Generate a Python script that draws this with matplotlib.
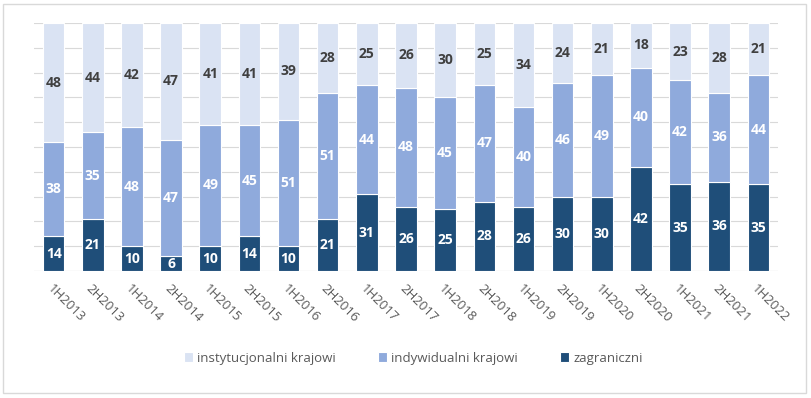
import numpy as np
import matplotlib.pyplot as plt
from matplotlib.patches import Rectangle

periods = ["1H2013", "2H2013", "1H2014", "2H2014", "1H2015", "2H2015", "1H2016",
           "2H2016", "1H2017", "2H2017", "1H2018", "2H2018", "1H2019", "2H2019",
           "1H2020", "2H2020", "1H2021", "2H2021", "1H2022"]
zagraniczni = [14, 21, 10, 6, 10, 14, 10, 21, 31, 26, 25, 28, 26, 30, 30, 42, 35, 36, 35]
indywidualni = [38, 35, 48, 47, 49, 45, 51, 51, 44, 48, 45, 47, 40, 46, 49, 40, 42, 36, 44]
instytucjonalni = [48, 44, 42, 47, 41, 41, 39, 28, 25, 26, 30, 25, 34, 24, 21, 18, 23, 28, 21]

c_zag = "#1f4e79"
c_ind = "#8faadc"
c_ins = "#dae3f3"

plt.rcParams['font.family'] = ['Open Sans', 'DejaVu Sans']

fig = plt.figure(figsize=(8.12, 3.98), dpi=100)
ax = fig.add_axes([0.042, 0.319, 0.916, 0.623])

x = np.arange(len(periods))
w = 0.55
bottoms = np.zeros(len(periods))
series = [(zagraniczni, c_zag, "zagraniczni", "white"),
          (indywidualni, c_ind, "indywidualni krajowi", "white"),
          (instytucjonalni, c_ins, "instytucjonalni krajowi", "#404040")]
handles = {}
for vals, col, name, tcol in series:
    vals = np.array(vals)
    b = ax.bar(x, vals, w, bottom=bottoms, color=col, edgecolor="white", linewidth=0.8, zorder=3)
    handles[name] = b
    for xi, v, bt in zip(x, vals, bottoms):
        ax.text(xi, bt + v / 2, str(v), ha="center", va="center", color=tcol,
                fontsize=10, fontweight="bold", zorder=4)
    bottoms = bottoms + vals

ax.set_xlim(-0.5, len(periods) - 0.5)
ax.set_ylim(0, 100)
ax.set_yticks(np.arange(0, 101, 10))
ax.yaxis.grid(True, color="#d9d9d9", linewidth=0.8, zorder=0)
ax.tick_params(axis="y", left=False, labelleft=False)
ax.tick_params(axis="x", length=0, pad=8)
ax.set_xticks(x)
ax.set_xticklabels(periods, rotation=-45, ha="left", rotation_mode="anchor",
                   fontsize=9.5, color="#595959")
for s in ax.spines.values():
    s.set_visible(False)
ax.axhline(0, color="#d9d9d9", linewidth=0.8, zorder=2)

order = ["instytucjonalni krajowi", "indywidualni krajowi", "zagraniczni"]
fig.legend([handles[n] for n in order], order, loc="center", bbox_to_anchor=(0.509, 0.1),
           ncol=3, frameon=False, fontsize=9.5, labelcolor="#595959",
           handlelength=0.7, handleheight=0.7, handletextpad=0.3, columnspacing=3.2)

fig.patches.append(Rectangle((0.004, 0.012), 0.988, 0.978, transform=fig.transFigure,
                             fill=False, edgecolor="#d9d9d9", linewidth=1))

fig.savefig("out.png", dpi=100)
